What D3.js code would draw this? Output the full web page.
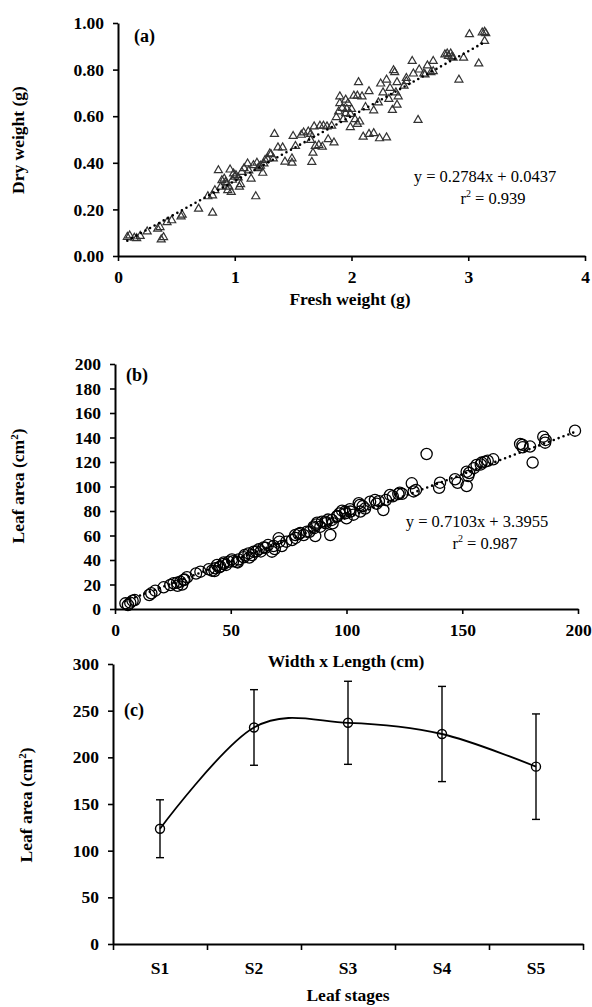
<!DOCTYPE html>
<html><head><meta charset="utf-8">
<script src="https://cdn.jsdelivr.net/npm/d3@7"></script>
<style>body{margin:0;background:#fff}svg{display:block}</style>
</head><body>
<svg id="chart" width="592" height="1007"></svg>
<script>
// ---------- Panel (a) data ----------
const freshWeight = [0.08,0.10,0.14,0.16,0.19,0.25,0.34,0.36,0.37,0.39,0.42,0.46,0.54,0.55,0.69,0.77,0.81,0.81,0.83,0.86,0.88,0.89,0.91,0.92,0.93,0.94,0.95,0.96,0.97,0.98,0.99,1.00,1.01,1.03,1.04,1.05,1.06,1.08,1.11,1.12,1.14,1.16,1.18,1.19,1.20,1.21,1.22,1.24,1.25,1.26,1.28,1.30,1.31,1.33,1.34,1.37,1.41,1.43,1.49,1.49,1.50,1.52,1.57,1.59,1.63,1.65,1.65,1.66,1.67,1.68,1.69,1.72,1.73,1.75,1.76,1.79,1.80,1.83,1.85,1.87,1.89,1.90,1.90,1.92,1.93,1.95,1.95,1.96,1.97,1.99,1.99,2.00,2.02,2.03,2.05,2.05,2.06,2.07,2.09,2.10,2.12,2.15,2.15,2.19,2.19,2.23,2.24,2.25,2.27,2.30,2.30,2.32,2.33,2.35,2.36,2.37,2.38,2.39,2.39,2.40,2.45,2.47,2.47,2.52,2.53,2.57,2.58,2.62,2.63,2.65,2.68,2.70,2.70,2.80,2.82,2.83,2.85,2.86,2.87,2.92,2.96,3.01,3.09,3.12,3.14,3.14,3.15];
const dryWeight   = [0.085,0.091,0.081,0.079,0.089,0.108,0.120,0.127,0.074,0.084,0.148,0.156,0.173,0.180,0.206,0.259,0.263,0.189,0.285,0.371,0.300,0.328,0.335,0.320,0.314,0.285,0.300,0.374,0.278,0.330,0.357,0.343,0.350,0.340,0.300,0.311,0.364,0.380,0.400,0.370,0.335,0.393,0.259,0.403,0.380,0.386,0.390,0.360,0.400,0.415,0.420,0.443,0.440,0.422,0.527,0.469,0.469,0.408,0.403,0.422,0.518,0.475,0.523,0.533,0.537,0.501,0.527,0.407,0.446,0.559,0.475,0.479,0.562,0.472,0.562,0.559,0.504,0.562,0.490,0.599,0.623,0.688,0.659,0.638,0.590,0.616,0.674,0.634,0.659,0.613,0.556,0.634,0.691,0.590,0.570,0.691,0.749,0.580,0.688,0.515,0.642,0.710,0.527,0.530,0.628,0.662,0.508,0.743,0.705,0.512,0.760,0.677,0.724,0.630,0.800,0.792,0.705,0.749,0.652,0.688,0.734,0.767,0.753,0.840,0.786,0.587,0.803,0.786,0.782,0.821,0.792,0.840,0.796,0.868,0.872,0.861,0.872,0.858,0.854,0.760,0.854,0.955,0.829,0.962,0.965,0.926,0.959];
const fitA = [0.2784, 0.0437];
const eqA = ["y = 0.2784x + 0.0437", "r² = 0.939"];
const ticksAx = [0,1,2,3,4];
const ticksAy = [0,0.2,0.4,0.6,0.8,1.0];

// ---------- Panel (b) data ----------
const widthLength = [4.5,5.6,6.6,7.6,8.5,14.8,15.7,17.4,21.0,23.9,25.3,26.8,27,28.2,29,29.7,30,31.1,35,36.9,40.5,41.9,43,43.3,44.1,45,45.5,46.9,47,48,49.1,50.5,51,52.7,53,53.4,55.6,56,57.7,58,59.2,59.9,61,62.1,63,64.2,65,66.1,67.8,68.5,69,70.7,71,72.1,74,76.5,77.9,78,79.3,80,81.5,82.9,84,85.8,86,86.5,87,87.3,88.7,89.4,90.9,91,92,93.0,93.7,94,95.9,96,97,98.1,99.4,99.5,100,101.5,101.7,103,105.3,105.8,106.0,107,108,110.2,112.3,113,114,115.9,117,118.8,120,122.4,123,124,128.2,129,130.0,134.6,140,140.4,146.9,148,151.9,151.9,152.6,153,155,156.2,158,158.4,159.8,161,163.4,175.0,176,176.1,179.3,180.4,185.0,185.8,186,198.7];
const leafArea    = [4.6,3.3,5.2,6.8,7.3,11.4,12.8,15.0,17.7,19.6,21.0,21.5,19,22.3,20,23.7,24,25.9,29,30.5,32.4,31.3,31,33.2,35.9,34,34.6,36.7,38,36,38.6,40.5,39,38.6,38,40.5,42.2,44,45.4,42,44.1,46.8,47,48.7,47,50.3,50,52.2,46.8,51.4,49,57.7,55,51.4,55,56.3,60.4,58,61.2,62,60.4,63.1,63,67.2,66,59.5,69,70.5,67.2,71.3,71.3,70,73,60.4,72.7,70,75.4,76,78,80.3,79.5,78.1,74,81.4,79.5,77,86.3,84.9,79.5,84,82,87.6,89.0,86,88,80.8,89,93.1,92,93.9,95,94,102.6,96,97.2,126.5,99,103.1,105.9,103,100.4,112.1,108.6,111,115,117.6,118,119.5,120.3,121,122.2,134.7,134,132.0,132.6,119.5,140.7,135.8,138,145.6];
const fitB = [0.7103, 3.3955];
const eqB = ["y = 0.7103x + 3.3955", "r² = 0.987"];
const ticksBx = [0,50,100,150,200];
const ticksBy = [0,20,40,60,80,100,120,140,160,180,200];

// ---------- Panel (c) data ----------
const stages = ["S1","S2","S3","S4","S5"];
const stageMean = [123.5,232,237,225,190];
const stageSD = [31,40.5,44.5,51,56.5];
const ticksCy = [0,50,100,150,200,250,300];

const svg = d3.select("#chart");
const FONT = "Liberation Serif, Times New Roman, serif";

function styleAxis(g){
  g.selectAll(".domain").attr("stroke","#000").attr("stroke-width",2);
  g.selectAll(".tick line").attr("stroke","#000").attr("stroke-width",1.6);
  g.selectAll("text").attr("font-family",FONT).attr("font-weight","bold").attr("font-size",17.5).attr("fill","#000");
}
function ylabel(x, y, parts){
  const t = svg.append("text").attr("transform",`translate(${x},${y}) rotate(-90)`)
    .attr("text-anchor","middle").attr("font-family",FONT).attr("font-weight","bold").attr("font-size",17.5);
  parts.forEach(p=>{
    const ts = t.append("tspan").text(p.t);
    if(p.sup){ ts.attr("font-size",11).attr("dy",-6); }
    if(p.back){ ts.attr("dy",6); }
  });
}
function xlabel(x,y,txt){
  svg.append("text").attr("x",x).attr("y",y).attr("text-anchor","middle")
    .attr("font-family",FONT).attr("font-weight","bold").attr("font-size",17.5).text(txt);
}
function panelLabel(x,y,txt){
  svg.append("text").attr("x",x).attr("y",y).attr("font-family",FONT).attr("font-weight","bold").attr("font-size",18).text(txt);
}
function equation(x,y,lines){
  svg.append("text").attr("x",x).attr("y",y).attr("text-anchor","middle")
    .attr("font-family",FONT).attr("font-size",16.5).text(lines[0]);
  const t = svg.append("text").attr("x",x+8).attr("y",y+22).attr("text-anchor","middle")
    .attr("font-family",FONT).attr("font-size",16.5);
  t.append("tspan").text("r");
  t.append("tspan").text("2").attr("font-size",10).attr("dy",-7);
  t.append("tspan").text(lines[1].slice(2)).attr("dy",7);
}

// ===== Panel (a) =====
{
  const x = d3.scaleLinear().domain([0,4]).range([118,585]);
  const y = d3.scaleLinear().domain([0,1]).range([256,23]);
  svg.append("g").attr("transform","translate(0,256)")
    .call(d3.axisBottom(x).tickValues(ticksAx).tickSize(5).tickSizeOuter(0).tickPadding(10).tickFormat(d3.format("d"))).call(styleAxis);
  svg.append("g").attr("transform","translate(118,0)")
    .call(d3.axisLeft(y).tickValues(ticksAy).tickSize(5).tickSizeOuter(0).tickPadding(9).tickFormat(d3.format(".2f"))).call(styleAxis);
  const pts = freshWeight.map((f,i)=>[f,dryWeight[i]]);
  const tri = d3.symbol().type(d3.symbolTriangle).size(28);
  svg.append("g").selectAll("path").data(pts).join("path")
    .attr("d",tri).attr("transform",d=>`translate(${x(d[0])},${y(d[1])+0.8})`)
    .attr("fill","none").attr("stroke","#333").attr("stroke-width",1.2);
  const ext = d3.extent(freshWeight);
  svg.append("line").attr("x1",x(ext[0])).attr("x2",x(ext[1]))
    .attr("y1",y(fitA[0]*ext[0]+fitA[1])).attr("y2",y(fitA[0]*ext[1]+fitA[1]))
    .attr("stroke","#000").attr("stroke-width",2.6).attr("stroke-linecap","round").attr("stroke-dasharray","0,5.2");
  panelLabel(134,42,"(a)");
  equation(485,182,eqA);
  xlabel(350,305,"Fresh weight (g)");
  ylabel(24,140,[{t:"Dry weight (g)"}]);
}

// ===== Panel (b) =====
{
  const x = d3.scaleLinear().domain([0,200]).range([115,578]);
  const y = d3.scaleLinear().domain([0,200]).range([609,364]);
  svg.append("g").attr("transform","translate(0,609)")
    .call(d3.axisBottom(x).tickValues(ticksBx).tickSize(5).tickSizeOuter(0).tickPadding(10)).call(styleAxis);
  svg.append("g").attr("transform","translate(115,0)")
    .call(d3.axisLeft(y).tickValues(ticksBy).tickSize(5).tickSizeOuter(0).tickPadding(9)).call(styleAxis);
  const pts = widthLength.map((w,i)=>[w,leafArea[i]]);
  svg.append("g").selectAll("circle").data(pts).join("circle")
    .attr("cx",d=>x(d[0])).attr("cy",d=>y(d[1])).attr("r",5.6)
    .attr("fill","none").attr("stroke","#000").attr("stroke-width",1.3);
  const ext = d3.extent(widthLength);
  svg.append("line").attr("x1",x(ext[0])).attr("x2",x(ext[1]))
    .attr("y1",y(fitB[0]*ext[0]+fitB[1])).attr("y2",y(fitB[0]*ext[1]+fitB[1]))
    .attr("stroke","#000").attr("stroke-width",2.6).attr("stroke-linecap","round").attr("stroke-dasharray","0,5.2");
  panelLabel(126,381,"(b)");
  equation(477,527,eqB);
  xlabel(346,667,"Width x Length (cm)");
  ylabel(24,486,[{t:"Leaf area (cm"},{t:"2",sup:true},{t:")",back:true}]);
}

// ===== Panel (c) =====
{
  const x = d3.scaleBand().domain(stages).range([113,583]);
  const xb = d3.scaleLinear().domain([0,stages.length]).range([113,583]);
  const y = d3.scaleLinear().domain([0,300]).range([944,664]);
  svg.append("g").attr("transform","translate(0,944)")
    .call(d3.axisBottom(xb).ticks(stages.length).tickSize(6).tickSizeOuter(0).tickFormat("")).call(styleAxis);
  svg.append("g").attr("transform","translate(0,944)")
    .call(d3.axisBottom(x).tickSize(0).tickPadding(18)).call(styleAxis)
    .select(".domain").remove();
  svg.append("g").attr("transform","translate(113,0)")
    .call(d3.axisLeft(y).tickValues(ticksCy).tickSize(5).tickSizeOuter(0).tickPadding(9)).call(styleAxis);
  const cx = s=>x(s)+x.bandwidth()/2;
  const data = stages.map((s,i)=>({s,m:stageMean[i],sd:stageSD[i]}));
  const line = d3.line().x(d=>cx(d.s)).y(d=>y(d.m)).curve(d3.curveCardinal.tension(0));
  svg.append("path").datum(data).attr("d",line).attr("fill","none").attr("stroke","#000").attr("stroke-width",1.8);
  const eb = svg.append("g").attr("stroke","#000").attr("stroke-width",1.4);
  eb.selectAll(".v").data(data).join("line").attr("x1",d=>cx(d.s)).attr("x2",d=>cx(d.s))
    .attr("y1",d=>y(d.m-d.sd)).attr("y2",d=>y(d.m+d.sd));
  eb.selectAll(".t").data(data).join("line").attr("x1",d=>cx(d.s)-4).attr("x2",d=>cx(d.s)+4)
    .attr("y1",d=>y(d.m+d.sd)).attr("y2",d=>y(d.m+d.sd));
  eb.selectAll(".b").data(data).join("line").attr("x1",d=>cx(d.s)-4).attr("x2",d=>cx(d.s)+4)
    .attr("y1",d=>y(d.m-d.sd)).attr("y2",d=>y(d.m-d.sd));
  svg.append("g").selectAll("circle").data(data).join("circle")
    .attr("cx",d=>cx(d.s)).attr("cy",d=>y(d.m)).attr("r",4.5)
    .attr("fill","none").attr("stroke","#000").attr("stroke-width",1.4);
  panelLabel(124,716,"(c)");
  xlabel(348,1001,"Leaf stages");
  ylabel(32,805,[{t:"Leaf area (cm"},{t:"2",sup:true},{t:")",back:true}]);
}
</script>
</body></html>
